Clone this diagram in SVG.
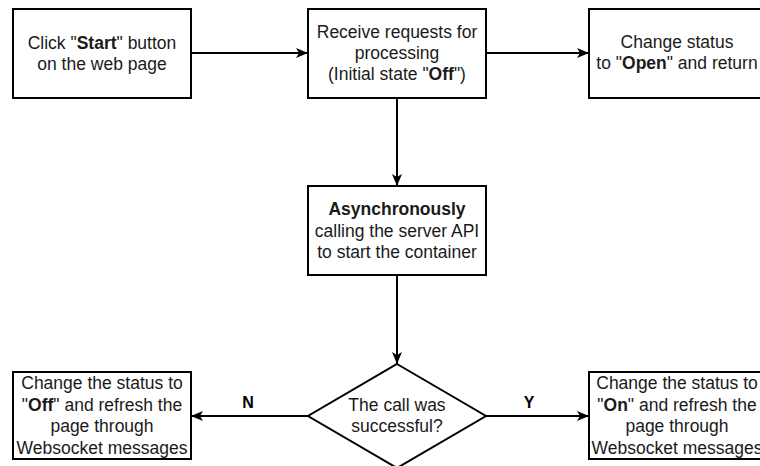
<svg xmlns="http://www.w3.org/2000/svg" width="760" height="466" viewBox="0 0 760 466">
<defs>
<style>
.box{fill:#fff;stroke:#000;stroke-width:2}
.t{font-family:"Liberation Sans",Arial,sans-serif;font-size:17.5px;fill:#1a1a1a;text-anchor:middle}
.b{font-weight:bold}
.lbl{font-family:"Liberation Sans",Arial,sans-serif;font-size:16px;font-weight:bold;fill:#000;text-anchor:middle}
.c{fill:none;stroke:#000;stroke-width:2;marker-end:url(#ah)}
</style>
<marker id="ah" viewBox="0 0 12 10" refX="12" refY="5" markerWidth="12" markerHeight="10" markerUnits="userSpaceOnUse" orient="auto">
<path d="M0,0 L12,5 L0,10 L3,5 Z" fill="#000"/>
</marker>
</defs>
<rect width="760" height="466" fill="#fff"/>
<g id="connectors">
<line class="c" x1="191" y1="53" x2="308" y2="53"/>
<line class="c" x1="486" y1="53" x2="589" y2="53"/>
<line class="c" x1="397" y1="98" x2="397" y2="186"/>
<line class="c" x1="397" y1="275" x2="397" y2="364"/>
<line class="c" x1="308" y1="416" x2="191" y2="416"/>
<line class="c" x1="486" y1="416" x2="589" y2="416"/>
<text class="lbl" x="248" y="408">N</text>
<text class="lbl" x="529" y="408">Y</text>
</g>
<g id="start">
<rect class="box" x="13" y="9" width="178" height="89"/>
<text class="t" x="102" y="49">Click "<tspan class="b">Start</tspan>" button</text>
<text class="t" x="102" y="70">on the web page</text>
</g>
<g id="receive">
<rect class="box" x="308" y="9" width="178" height="89"/>
<text class="t" x="397" y="38">Receive requests for</text>
<text class="t" x="397" y="59">processing</text>
<text class="t" x="397" y="80">(Initial state "<tspan class="b">Off</tspan>")</text>
</g>
<g id="open">
<rect class="box" x="589" y="9" width="178" height="89"/>
<text class="t" x="677" y="48">Change status</text>
<text class="t" x="677" y="69">to "<tspan class="b">Open</tspan>" and return</text>
</g>
<g id="async">
<rect class="box" x="308" y="186" width="178" height="89"/>
<text class="t" x="397" y="215"><tspan class="b">Asynchronously</tspan></text>
<text class="t" x="397" y="237">calling the server API</text>
<text class="t" x="397" y="258">to start the container</text>
</g>
<g id="decision">
<polygon class="box" points="397,364 486,416 397,468 308,416"/>
<text class="t" x="397" y="411">The call was</text>
<text class="t" x="397" y="432">successful?</text>
</g>
<g id="off">
<rect class="box" x="13" y="372" width="178" height="87"/>
<text class="t" x="102" y="389">Change the status to</text>
<text class="t" x="102" y="411">"<tspan class="b">Off</tspan>" and refresh the</text>
<text class="t" x="102" y="432">page through</text>
<text class="t" x="102" y="454">Websocket messages</text>
</g>
<g id="on">
<rect class="box" x="589" y="372" width="178" height="87"/>
<text class="t" x="677" y="389">Change the status to</text>
<text class="t" x="677" y="411">"<tspan class="b">On</tspan>" and refresh the</text>
<text class="t" x="677" y="432">page through</text>
<text class="t" x="677" y="454">Websocket messages</text>
</g>
</svg>
